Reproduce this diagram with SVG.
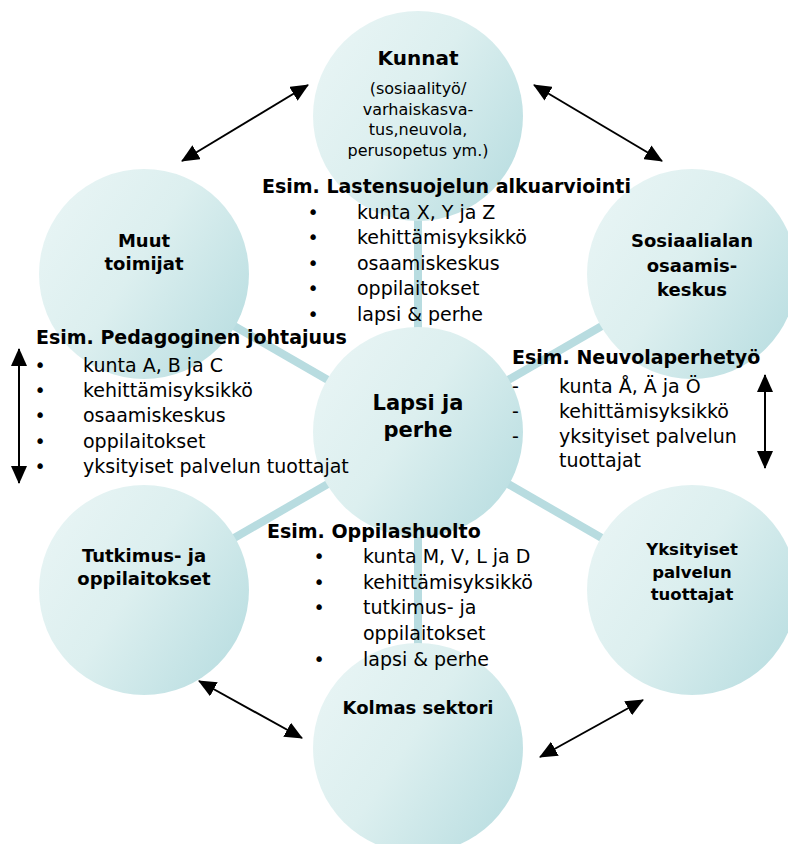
<svg xmlns="http://www.w3.org/2000/svg" width="788" height="844" viewBox="0 0 788 844">
<defs>
<linearGradient id="cg" x1="0.05" y1="0.2" x2="0.95" y2="0.8">
<stop offset="0" stop-color="#e7f4f4"/>
<stop offset="0.45" stop-color="#dcefef"/>
<stop offset="1" stop-color="#bcdfe2"/>
</linearGradient>
<marker id="ah" markerUnits="userSpaceOnUse" markerWidth="18" markerHeight="16" refX="17" refY="8" orient="auto-start-reverse" viewBox="0 0 18 16">
<path d="M0,0 L18,8 L0,16 z" fill="#000"/>
</marker>
</defs>
<style>
.c{fill:url(#cg)}
.sp{stroke:#b8dce0;stroke-width:8;fill:none}
.ar{stroke:#000;stroke-width:2;fill:none;marker-start:url(#ah);marker-end:url(#ah)}
text{font-family:"DejaVu Sans",Verdana,sans-serif;fill:#000}
.lb{font-weight:bold;font-size:18px;text-anchor:middle}
.h{font-weight:bold;font-size:19px}
.t{font-size:19px}
.b{font-size:19px;text-anchor:middle}
.s{font-size:16px;text-anchor:middle}
</style>
<rect width="788" height="844" fill="#fff"/>
<g id="connectors">
<line class="sp" x1="418" y1="432" x2="418" y2="116"/>
<line class="sp" x1="418" y1="432" x2="692" y2="274"/>
<line class="sp" x1="418" y1="432" x2="692" y2="590"/>
<line class="sp" x1="418" y1="432" x2="418" y2="748"/>
<line class="sp" x1="418" y1="432" x2="144" y2="590"/>
<line class="sp" x1="418" y1="432" x2="144" y2="274"/>
<line class="ar" x1="182" y1="161" x2="308" y2="85"/>
<line class="ar" x1="534" y1="85" x2="662" y2="161"/>
<line class="ar" x1="19" y1="349" x2="19" y2="483"/>
<line class="ar" x1="765" y1="375" x2="765" y2="468"/>
<line class="ar" x1="199" y1="681" x2="302" y2="738"/>
<line class="ar" x1="643" y1="700" x2="540" y2="757"/>
</g>
<g id="kunnat">
<circle class="c" cx="418" cy="116" r="105"/>
<text class="lb" x="418" y="65" style="font-size:20px">Kunnat</text>
<text class="s" x="418" y="94">(sosiaalityö/</text>
<text class="s" x="418" y="115">varhaiskasva-</text>
<text class="s" x="418" y="135">tus,neuvola,</text>
<text class="s" x="418" y="156">perusopetus ym.)</text>
</g>
<g id="sosiaalialan">
<circle class="c" cx="692" cy="274" r="105"/>
<text class="lb" x="692" y="247">Sosiaalialan</text>
<text class="lb" x="692" y="272">osaamis-</text>
<text class="lb" x="692" y="296">keskus</text>
</g>
<g id="yksityiset">
<circle class="c" cx="692" cy="590" r="105"/>
<text class="lb" x="692" y="555" style="font-size:16.5px">Yksityiset</text>
<text class="lb" x="692" y="578" style="font-size:16.5px">palvelun</text>
<text class="lb" x="692" y="600" style="font-size:16.5px">tuottajat</text>
</g>
<g id="kolmas">
<circle class="c" cx="418" cy="748" r="105"/>
<text class="lb" x="418" y="714">Kolmas sektori</text>
</g>
<g id="tutkimus">
<circle class="c" cx="144" cy="590" r="105"/>
<text class="lb" x="144" y="562">Tutkimus- ja</text>
<text class="lb" x="144" y="585">oppilaitokset</text>
</g>
<g id="muut">
<circle class="c" cx="144" cy="274" r="105"/>
<text class="lb" x="144" y="247">Muut</text>
<text class="lb" x="144" y="270">toimijat</text>
</g>
<g id="lapsi">
<circle class="c" cx="418" cy="432" r="105"/>
<text class="lb" x="418" y="410" style="font-size:21px">Lapsi ja</text>
<text class="lb" x="418" y="437" style="font-size:21px">perhe</text>
</g>
<g id="esim-lastensuojelu">
<text class="h" x="262" y="193">Esim. Lastensuojelun alkuarviointi</text>
<text class="b" x="313" y="219">•</text><text class="t" x="357" y="219">kunta X, Y ja Z</text>
<text class="b" x="313" y="244">•</text><text class="t" x="357" y="244">kehittämisyksikkö</text>
<text class="b" x="313" y="270">•</text><text class="t" x="357" y="270">osaamiskeskus</text>
<text class="b" x="313" y="295">•</text><text class="t" x="357" y="295">oppilaitokset</text>
<text class="b" x="313" y="321">•</text><text class="t" x="357" y="321">lapsi &amp; perhe</text>
</g>
<g id="esim-pedagoginen">
<text class="h" x="36" y="344">Esim. Pedagoginen johtajuus</text>
<text class="b" x="40" y="372">•</text><text class="t" x="83" y="372">kunta A, B ja C</text>
<text class="b" x="40" y="397">•</text><text class="t" x="83" y="397">kehittämisyksikkö</text>
<text class="b" x="40" y="422">•</text><text class="t" x="83" y="422">osaamiskeskus</text>
<text class="b" x="40" y="448">•</text><text class="t" x="83" y="448">oppilaitokset</text>
<text class="b" x="40" y="473">•</text><text class="t" x="83" y="473">yksityiset palvelun tuottajat</text>
</g>
<g id="esim-neuvola">
<text class="h" x="512" y="364">Esim. Neuvolaperhetyö</text>
<text class="t" x="512" y="393">-</text><text class="t" x="559" y="393">kunta Å, Ä ja Ö</text>
<text class="t" x="512" y="418">-</text><text class="t" x="559" y="418">kehittämisyksikkö</text>
<text class="t" x="512" y="443">-</text><text class="t" x="559" y="443">yksityiset palvelun</text>
<text class="t" x="559" y="467">tuottajat</text>
</g>
<g id="esim-oppilashuolto">
<text class="h" x="267" y="538">Esim. Oppilashuolto</text>
<text class="b" x="319" y="563">•</text><text class="t" x="363" y="563">kunta M, V, L ja D</text>
<text class="b" x="319" y="589">•</text><text class="t" x="363" y="589">kehittämisyksikkö</text>
<text class="b" x="319" y="614">•</text><text class="t" x="363" y="614">tutkimus- ja</text>
<text class="t" x="363" y="640">oppilaitokset</text>
<text class="b" x="319" y="666">•</text><text class="t" x="363" y="666">lapsi &amp; perhe</text>
</g>
</svg>
